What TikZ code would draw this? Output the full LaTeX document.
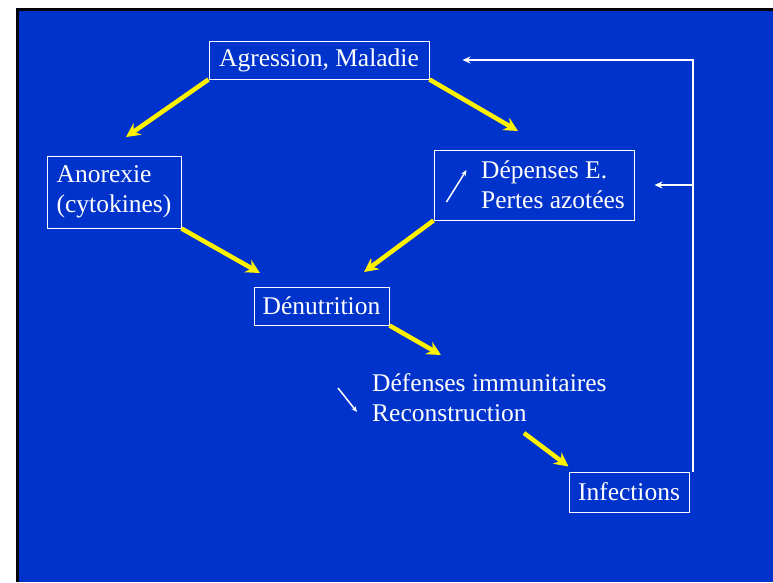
\documentclass[tikz,border=0pt]{standalone}
\usepackage{fontspec}
\setmainfont{Liberation Serif}
\usetikzlibrary{arrows.meta, positioning, calc}
\definecolor{slideblue}{RGB}{0,51,204}

\begin{document}
\begin{tikzpicture}[x=1pt, y=-1pt, >=Stealth,
  every node/.style={text=white, font=\fontsize{25.5}{30}\selectfont},
  box/.style={draw=white, line width=1pt, inner sep=0pt, minimum height=38},
  yarrow/.style={draw=yellow, line width=4.5pt, -{Stealth[length=14pt, width=14pt]}},
  fb/.style={draw=white, line width=2pt, -{Stealth[length=8pt, width=7pt]}},
  trend/.style={draw=white, line width=1.5pt, -{Stealth[length=6pt, width=5pt]}}]
  \useasboundingbox (0,0) rectangle (773,582);
  \fill[black] (16,8) rectangle (773,582);
  \fill[slideblue] (19,11) rectangle (773,582);

  \node[box, minimum width=220] (agr) at (319,60) {Agression, Maladie};
  \node[box, minimum width=134, minimum height=72, align=left] (ano) at (114,192) {Anorexie\\(cytokines)};
  \node[box, minimum width=200, minimum height=70, align=left, inner xsep=9pt] (dep) at (534,185)
    {\hspace*{38pt}Dépenses E.\\\hspace*{38pt}Pertes azotées};
  \node[box, minimum width=135] (den) at (321.5,306) {Dénutrition};
  \node[anchor=west, align=left, inner sep=0pt] (def) at (372,398) {Défenses immunitaires\\Reconstruction};
  \node[box, minimum width=120, minimum height=40] (inf) at (629,492) {Infections};

  % free ends of the yellow arrows
  \coordinate (agrL) at (126,137);
  \coordinate (agrR) at (518,131);
  \coordinate (anoEnd) at (260,273);
  \coordinate (depEnd) at (364,272);
  \coordinate (denEnd) at (441,355);
  \coordinate (defStart) at (524,433);

  \draw[yarrow] (agr.south west) -- (agrL);
  \draw[yarrow] (agr.south east) -- (agrR);
  \draw[yarrow] (ano.south east) -- (anoEnd);
  \draw[yarrow] (dep.south west) -- (depEnd);
  \draw[yarrow] (den.south east) -- (denEnd);
  \draw[yarrow] (defStart) -- ([yshift=5pt]inf.north west);

  % feedback loop
  \draw[fb] ([xshift=3pt]inf.north east) |- ([xshift=33pt]agr.east);
  \draw[fb] ([xshift=3pt]inf.north east |- dep.east) -- ([xshift=20pt]dep.east);

  % up / down signs
  \draw[trend] ($(dep.west)+(13,17)$) -- ($(dep.west)+(33,-15)$);
  \draw[trend] ($(def.west)+(-34,-10)$) -- ($(def.west)+(-15,14)$);
\end{tikzpicture}
\end{document}
